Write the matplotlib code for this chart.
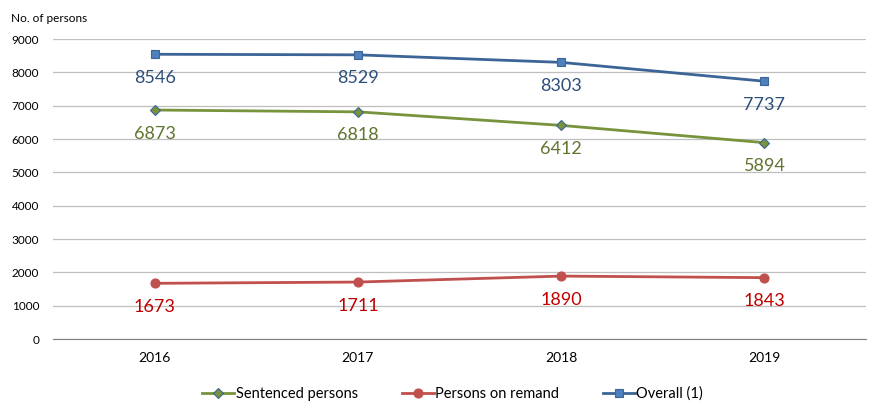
import matplotlib.pyplot as plt

years = ['2016', '2017', '2018', '2019']
sentenced = [6873, 6818, 6412, 5894]
remand = [1673, 1711, 1890, 1843]
overall = [8546, 8529, 8303, 7737]

plt.rcParams['font.family'] = ['Lato', 'DejaVu Sans']

fig = plt.figure(figsize=(8.79, 4.12), dpi=100)
ax = fig.add_axes([0.0603, 0.177, 0.925, 0.728])

x = range(len(years))
series = [
    (sentenced, 'Sentenced persons', '#77933C', '#77933C', 'D', 5.5, '#5F7530'),
    (remand, 'Persons on remand', '#C0504D', '#C0504D', 'o', 6.5, '#C00000'),
    (overall, 'Overall (1)', '#3C6496', '#4F81BD', 's', 6, '#2E4F7A'),
]
for vals, name, lc, mc, mk, ms, tc in series:
    ax.plot(x, vals, color=lc, lw=2, marker=mk, ms=ms, mfc=mc,
            mec='#3C6496' if mk != 'o' else mc, mew=0.8, label=name)
    for xi, v in zip(x, vals):
        ax.annotate(str(v), (xi, v), xytext=(0, -17), textcoords='offset points',
                    ha='center', va='center', fontsize=13, color=tc)

ax.set_xlim(-0.5, 3.5)
ax.set_ylim(0, 9000)
ax.set_yticks(range(0, 9001, 1000))
ax.set_xticks(list(x))
ax.set_xticklabels(years, fontsize=10)
ax.tick_params(axis='y', labelsize=8.5, length=0, pad=10)
ax.tick_params(axis='x', length=0, pad=9)
ax.grid(axis='y', color='#BFBFBF', lw=0.9)
ax.set_axisbelow(True)
for s in ['top', 'right', 'left']:
    ax.spines[s].set_visible(False)
ax.spines['bottom'].set_color('#808080')

fig.text(0.012, 0.955, 'No. of persons', fontsize=8.5, va='center')

fig.legend(loc='lower center', bbox_to_anchor=(0.515, -0.005), ncol=3, frameon=False,
           fontsize=10.5, handlelength=2.2, handletextpad=0.1, columnspacing=3)

plt.savefig('out.png', dpi=100)
